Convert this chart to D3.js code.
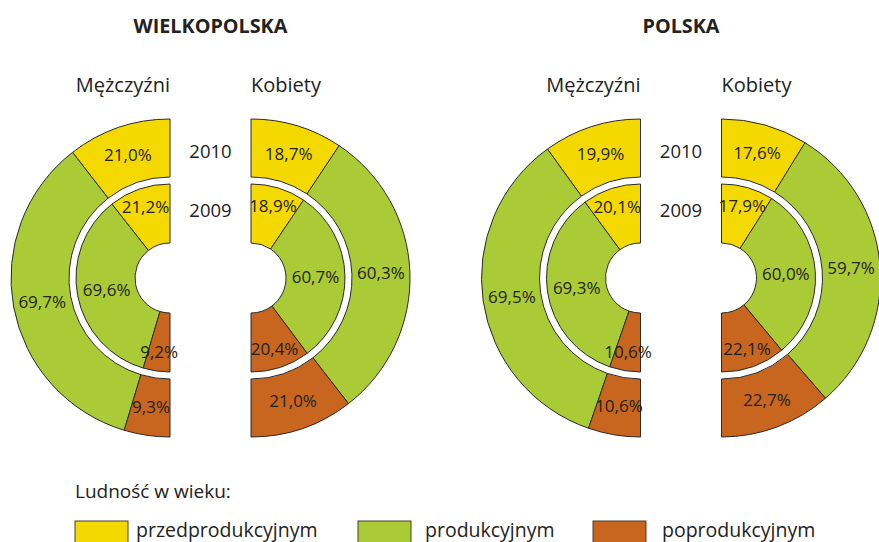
<!DOCTYPE html>
<html>
<head>
<meta charset="utf-8">
<script src="https://cdn.jsdelivr.net/npm/d3@7"></script>
<style>
  html, body { margin: 0; padding: 0; background: #fff; }
  svg { display: block; font-family: "Open Sans", sans-serif; }
</style>
</head>
<body>
<script>
// ---- DATA ----
const categories = ["przedprodukcyjnym", "produkcyjnym", "poprodukcyjnym"];
const regions = ["WIELKOPOLSKA", "POLSKA"];
const sexes = ["Mężczyźni", "Kobiety"];
const years = ["2010", "2009"];
const legendTitle = "Ludność w wieku:";

// [przedprodukcyjnym, produkcyjnym, poprodukcyjnym] in %
const wielkopolskaMen2010   = [21.0, 69.7, 9.3];
const wielkopolskaMen2009   = [21.2, 69.6, 9.2];
const wielkopolskaWomen2010 = [18.7, 60.3, 21.0];
const wielkopolskaWomen2009 = [18.9, 60.7, 20.4];
const polskaMen2010   = [19.9, 69.5, 10.6];
const polskaMen2009   = [20.1, 69.3, 10.6];
const polskaWomen2010 = [17.6, 59.7, 22.7];
const polskaWomen2009 = [17.9, 60.0, 22.1];

const dataByRegion = [
  [ { "2010": wielkopolskaMen2010, "2009": wielkopolskaMen2009 },
    { "2010": wielkopolskaWomen2010, "2009": wielkopolskaWomen2009 } ],
  [ { "2010": polskaMen2010, "2009": polskaMen2009 },
    { "2010": polskaWomen2010, "2009": polskaWomen2009 } ]
];

// ---- LAYOUT ----
const W = 879, H = 542;
const regionX = [210.5, 681];
const halfGap = 40.5;
const cy = 278;
const ringRadii = { "2010": [101, 159], "2009": [35, 94] };
const textColor = "#222";
const strokeColor = "#2a2a2a";

const color = d3.scaleOrdinal().domain(categories).range(["#F4D900", "#AACB35", "#C8651F"]);
const fmt = v => d3.format(".1f")(v).replace(".", ",") + "%";

const svg = d3.select("body").append("svg").attr("width", W).attr("height", H);

regions.forEach((reg, ri) => {
  const rx = regionX[ri];
  svg.append("text")
    .attr("x", rx).attr("y", 33)
    .attr("text-anchor", "middle")
    .attr("font-size", 19.8).attr("font-weight", 700)
    .attr("fill", textColor)
    .text(reg);

  years.forEach((yr, yi) => {
    svg.append("text")
      .attr("x", rx).attr("y", yi === 0 ? 158 : 217)
      .attr("text-anchor", "middle")
      .attr("font-size", 18.5)
      .attr("fill", textColor)
      .text(yr);
  });

  sexes.forEach((sx, si) => {
    const dir = si === 0 ? -1 : 1;
    const cx = rx + dir * halfGap;
    svg.append("text")
      .attr("x", cx).attr("y", 92)
      .attr("text-anchor", si === 0 ? "end" : "start")
      .attr("font-size", 20)
      .attr("fill", textColor)
      .text(sx);

    const g = svg.append("g").attr("transform", `translate(${cx},${cy})`);
    const pie = d3.pie().sort(null).startAngle(0).endAngle(dir * Math.PI).value(d => d.v);

    years.forEach(yr => {
      const vals = dataByRegion[ri][si][yr];
      const [r0, r1] = ringRadii[yr];
      const arcsData = pie(vals.map((v, i) => ({ v, cat: categories[i] })));
      const arc = d3.arc().innerRadius(r0).outerRadius(r1);

      g.selectAll(null).data(arcsData).enter().append("path")
        .attr("d", arc)
        .attr("fill", d => color(d.data.cat))
        .attr("stroke", strokeColor)
        .attr("stroke-width", 1);

      g.selectAll(null).data(arcsData).enter().append("text")
        .attr("transform", d => {
          let rr = (r0 + r1) / 2;
          if (yr === "2009" && d.data.v < 30) rr = 75;
          const c = d3.arc().innerRadius(rr).outerRadius(rr).centroid(d);
          return `translate(${c[0]},${c[1]})`;
        })
        .attr("text-anchor", "middle")
        .attr("dy", "0.36em")
        .attr("font-size", 17)
        .attr("fill", textColor)
        .text(d => fmt(d.data.v));
    });
  });
});

// ---- LEGEND ----
svg.append("text")
  .attr("x", 75).attr("y", 498)
  .attr("font-size", 19)
  .attr("fill", textColor)
  .text(legendTitle);

const legendX = [75, 358, 593];
const leg = svg.selectAll(".leg").data(categories).enter().append("g")
  .attr("transform", (d, i) => `translate(${legendX[i]},521)`);
leg.append("rect")
  .attr("width", 53).attr("height", 24)
  .attr("fill", d => color(d))
  .attr("stroke", "#4a3f2c").attr("stroke-width", 1);
leg.append("text")
  .attr("x", (d, i) => [61, 67, 69][i]).attr("y", 15.5)
  .attr("font-size", 19.5)
  .attr("fill", textColor)
  .text(d => d);
</script>
</body>
</html>
